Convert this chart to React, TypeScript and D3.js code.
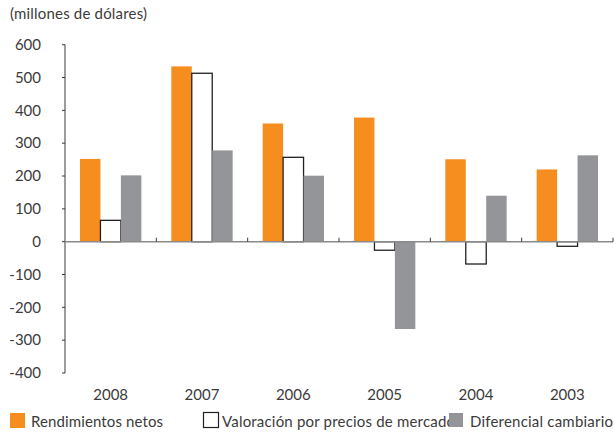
import React from "react";
import * as d3 from "d3";

const years = ["2008", "2007", "2006", "2005", "2004", "2003"];
const rendimientos = [252, 534, 360, 378, 251, 220];
const valoracion = [65, 513, 257, -26, -68, -14];
const diferencial = [202, 278, 201, -266, 140, 263];
const yTicks = [600, 500, 400, 300, 200, 100, 0, -100, -200, -300, -400];
const seriesNames = ["Rendimientos netos", "Valoración por precios de mercado", "Diferencial cambiario"];

const ORANGE = "#f68e1f";
const GRAY = "#939598";
const DARK = "#231f20";
const TEXT = "#3b3b3b";
const FONT = "Lato, 'Open Sans', sans-serif";

export default function App() {
  const W = 614, H = 433;
  const y = d3.scaleLinear().domain([-400, 600]).range([373, 44.7]);
  const x = d3.scaleBand<string>().domain(years).range([65, 613]).paddingInner(0).paddingOuter(0);
  const bw = x.bandwidth();
  const sub = d3.scaleBand<number>().domain([0, 1, 2]).range([15, bw - 15]).padding(0);
  const series = [rendimientos, valoracion, diferencial];
  const y0 = y(0);

  return (
    <svg width={W} height={H} style={{ position: "absolute", left: 0, top: 0 }} fontFamily={FONT}>
      <rect width={W} height={H} fill="#fff" />
      <text x={10} y={19} fontSize={15} fill={TEXT} textLength={137}>(millones de dólares)</text>

      {/* y axis */}
      <line x1={65} x2={65} y1={y(600)} y2={y(-400)} stroke="#3a3a3a" strokeWidth={1} />
      {yTicks.map((t) => (
        <g key={t}>
          <line x1={62} x2={65} y1={y(t)} y2={y(t)} stroke="#3a3a3a" strokeWidth={1} />
          <text x={41} y={y(t)} dy="0.35em" textAnchor="end" fontSize={15} fill={TEXT}>{t}</text>
        </g>
      ))}

      {/* bars */}
      {years.map((yr, i) =>
        series.map((s, k) => {
          const v = s[i];
          const bx = (x(yr) as number) + (sub(k) as number);
          const top = Math.min(y(v), y0);
          const h = Math.abs(y(v) - y0);
          if (k === 1) {
            return (
              <rect key={yr + k} x={bx} y={top} width={sub.bandwidth()} height={h}
                fill="#fff" stroke={DARK} strokeWidth={1.3} />
            );
          }
          return (
            <rect key={yr + k} x={bx} y={top} width={sub.bandwidth()} height={h}
              fill={k === 0 ? ORANGE : GRAY} />
          );
        })
      )}

      {/* zero line */}
      <line x1={65} x2={613} y1={y0} y2={y0} stroke="#8a8a8a" strokeWidth={1.5} />
      {years.map((yr) => (
        <line key={"t" + yr} x1={(x(yr) as number) + bw} x2={(x(yr) as number) + bw}
          y1={y0 - 4} y2={y0} stroke="#3a3a3a" strokeWidth={1} />
      ))}

      {/* x labels */}
      {years.map((yr) => (
        <text key={"l" + yr} x={(x(yr) as number) + bw / 2} y={400} textAnchor="middle" fontSize={15} fill={TEXT}>{yr}</text>
      ))}

      {/* legend */}
      <rect x={10} y={413} width={15} height={15} fill={ORANGE} />
      <text x={31} y={427} fontSize={15} fill={TEXT} textLength={132}>{seriesNames[0]}</text>
      <rect x={203.5} y={412.5} width={15} height={15} fill="#fff" stroke={DARK} strokeWidth={1.2} />
      <text x={222} y={427} fontSize={15} fill={TEXT} textLength={233}>{seriesNames[1]}</text>
      <rect x={449} y={413} width={14} height={14} fill={GRAY} />
      <text x={470} y={427} fontSize={15} fill={TEXT} textLength={143}>{seriesNames[2]}</text>
    </svg>
  );
}
